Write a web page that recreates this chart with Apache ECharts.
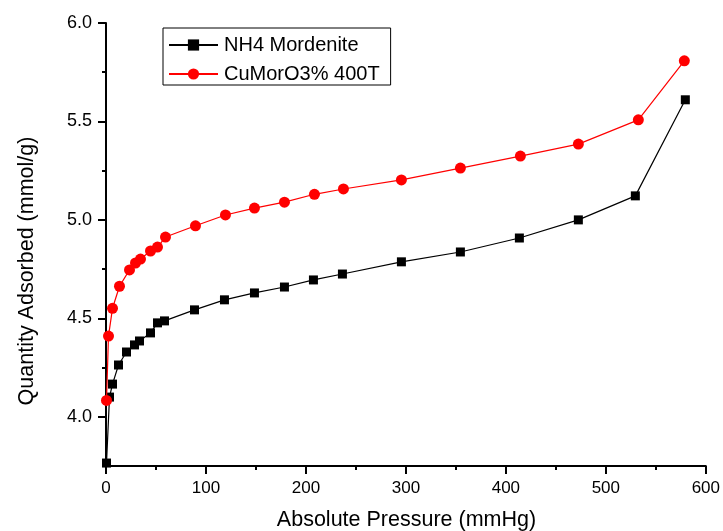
<!DOCTYPE html>
<html>
<head>
<meta charset="utf-8">
<script src="https://cdn.jsdelivr.net/npm/echarts@6/dist/echarts.min.js"></script>
<style>
  html, body { margin: 0; padding: 0; background: #fff; }
  #chart { width: 723px; height: 531px; }
</style>
</head>
<body>
<div id="chart"></div>
<script>
// Adsorption isotherms: pressure (mmHg) vs. quantity adsorbed (mmol/g)
const nh4Pressure = [0.5, 3.5, 6.5, 12.5, 20.5, 28.5, 33.5, 44.5, 51.5, 58.5, 88.5, 118.5, 148.5, 178.5, 207.5, 236.5, 295.5, 354.5, 413.5, 472.5, 529.5, 579.5];
const nh4Quantity = [3.765, 4.10, 4.166, 4.263, 4.329, 4.365, 4.385, 4.426, 4.477, 4.487, 4.543, 4.594, 4.629, 4.659, 4.695, 4.725, 4.787, 4.837, 4.908, 5.00, 5.122, 5.61];

const cuPressure = [0.5, 2.5, 6.5, 13.5, 23.5, 29.5, 34.5, 44.5, 51.5, 59.5, 89.5, 119.5, 148.5, 178.5, 208.5, 237.5, 295.5, 354.5, 414.5, 472.5, 532.5, 578.5];
const cuQuantity = [4.083, 4.41, 4.551, 4.663, 4.746, 4.781, 4.801, 4.842, 4.862, 4.913, 4.97, 5.025, 5.06, 5.09, 5.13, 5.157, 5.203, 5.263, 5.324, 5.385, 5.508, 5.808];

const xMajorTicks = [0, 100, 200, 300, 400, 500, 600];
const xMinorTicks = [50, 150, 250, 350, 450, 550];
const yMajorTicks = [4.0, 4.5, 5.0, 5.5, 6.0];
const yMinorTicks = [3.75, 4.25, 4.75, 5.25, 5.75];

const seriesNames = ['NH4 Mordenite', 'CuMorO3% 400T'];

const FONT = 'Liberation Sans, Arial, sans-serif';

function pairs(xs, ys) {
  return xs.map((x, i) => [x, ys[i]]);
}

const chart = echarts.init(document.getElementById('chart'), null, { renderer: 'canvas' });

const axisLine = { show: true, lineStyle: { color: '#000', width: 2 } };

chart.setOption({
  animation: false,
  backgroundColor: '#fff',
  grid: { left: 106, right: 16, top: 23, bottom: 65, containLabel: false },
  legend: {
    orient: 'vertical',
    left: 163,
    top: 28,
    padding: [7, 11, 1, 5],
    itemWidth: 49,
    itemHeight: 14,
    itemGap: 9,
    borderColor: '#000',
    borderWidth: 1,
    backgroundColor: '#fff',
    textStyle: { fontFamily: FONT, fontSize: 20, color: '#000', padding: [0, 0, 0, 1] },
    data: seriesNames
  },
  xAxis: [
    {
      type: 'value', min: 0, max: 600,
      axisLine: axisLine,
      splitLine: { show: false },
      axisTick: { show: true, customValues: xMajorTicks, length: 8, lineStyle: { color: '#000', width: 2 } },
      axisLabel: { customValues: xMajorTicks, margin: 14, fontFamily: FONT, fontSize: 17, color: '#000' }
    },
    {
      type: 'value', min: 0, max: 600, position: 'bottom',
      axisLine: { show: false },
      splitLine: { show: false },
      axisTick: { show: true, customValues: xMinorTicks, length: 4, lineStyle: { color: '#000', width: 2 } },
      axisLabel: { show: false }
    }
  ],
  yAxis: [
    {
      type: 'value', min: 3.75, max: 6.0,
      axisLine: axisLine,
      splitLine: { show: false },
      axisTick: { show: true, customValues: yMajorTicks, length: 8, lineStyle: { color: '#000', width: 2 } },
      axisLabel: {
        customValues: yMajorTicks, margin: 14, fontFamily: FONT, fontSize: 18, color: '#000',
        formatter: v => v.toFixed(1)
      }
    },
    {
      type: 'value', min: 3.75, max: 6.0, position: 'left',
      axisLine: { show: false },
      splitLine: { show: false },
      axisTick: { show: true, customValues: yMinorTicks, length: 4, lineStyle: { color: '#000', width: 2 } },
      axisLabel: { show: false }
    }
  ],
  graphic: [
    {
      type: 'text', x: 406.5, y: 520,
      style: { text: 'Absolute Pressure (mmHg)', fontFamily: FONT, fontSize: 21.5, fill: '#000', align: 'center', verticalAlign: 'middle' }
    },
    {
      type: 'text', x: 27, y: 271, rotation: Math.PI / 2,
      style: { text: 'Quantity Adsorbed (mmol/g)', fontFamily: FONT, fontSize: 21.5, fill: '#000', align: 'center', verticalAlign: 'middle' }
    }
  ],
  series: [
    {
      name: seriesNames[0],
      type: 'line',
      data: pairs(nh4Pressure, nh4Quantity),
      symbol: 'rect',
      symbolSize: 9,
      clip: false,
      itemStyle: { color: '#000' },
      lineStyle: { color: '#000', width: 1.2 },
      z: 3
    },
    {
      name: seriesNames[1],
      type: 'line',
      data: pairs(cuPressure, cuQuantity),
      symbol: 'circle',
      symbolSize: 11,
      clip: false,
      itemStyle: { color: '#ff0000' },
      lineStyle: { color: '#ff0000', width: 1.2 },
      z: 4
    }
  ]
});
</script>
</body>
</html>
